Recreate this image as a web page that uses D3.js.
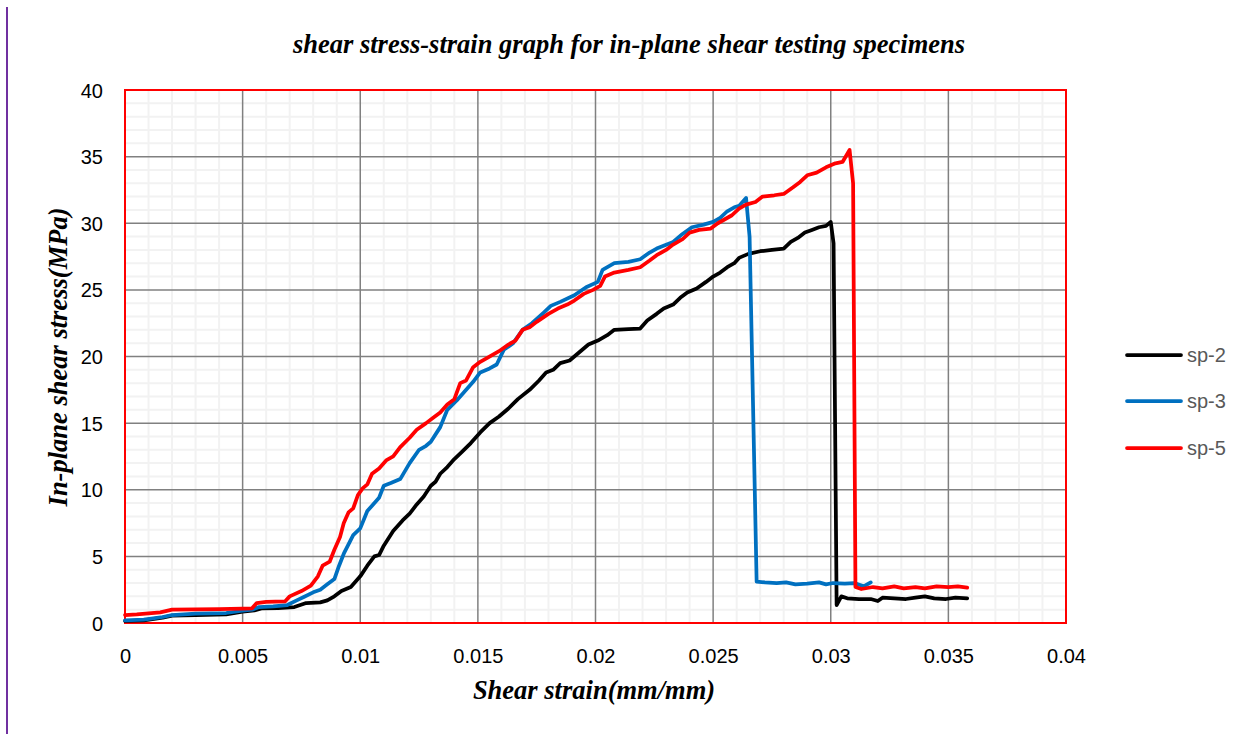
<!DOCTYPE html>
<html><head><meta charset="utf-8">
<script src="https://cdn.jsdelivr.net/npm/d3@7"></script>
<style>body{margin:0;background:#fff;}svg{display:block;}</style>
</head><body>
<script>
const titleText = "shear stress-strain graph for in-plane shear testing specimens";
const xLabel = "Shear strain(mm/mm)";
const yLabel = "In-plane shear stress(MPa)";
const xTicks = [0,0.005,0.01,0.015,0.02,0.025,0.03,0.035,0.04];
const yTicks = [0,5,10,15,20,25,30,35,40];
const seriesNames = ["sp-2","sp-3","sp-5"];
const seriesColors = ["#000000","#0070c0","#ff0000"];

const sp2 = [[0,0.15],[0.0008,0.2],[0.0016,0.4],[0.002,0.55],[0.003,0.6],[0.0043,0.65],[0.005,0.85],[0.0055,0.95],[0.0058,1.1],[0.0065,1.12],[0.0072,1.2],[0.0077,1.5],[0.0083,1.55],[0.0086,1.7],[0.0089,2.0],[0.0092,2.4],[0.0096,2.7],[0.0100,3.5],[0.0103,4.3],[0.0106,5.0],[0.0108,5.1],[0.0110,5.8],[0.0114,6.9],[0.0118,7.7],[0.0121,8.2],[0.0124,8.9],[0.0127,9.5],[0.0130,10.3],[0.0132,10.6],[0.0134,11.2],[0.0137,11.7],[0.0140,12.3],[0.0143,12.8],[0.0147,13.5],[0.0151,14.3],[0.0155,15.0],[0.0159,15.5],[0.0163,16.1],[0.0167,16.8],[0.0172,17.5],[0.0176,18.2],[0.0179,18.8],[0.0182,19.0],[0.0185,19.5],[0.0189,19.7],[0.0193,20.3],[0.0197,20.9],[0.0201,21.2],[0.0205,21.6],[0.0208,22.0],[0.0214,22.05],[0.0219,22.1],[0.0222,22.7],[0.0226,23.2],[0.0229,23.6],[0.0233,23.9],[0.0236,24.4],[0.0239,24.8],[0.0243,25.1],[0.0247,25.6],[0.025,26.0],[0.0253,26.3],[0.0256,26.7],[0.0259,27.0],[0.0261,27.4],[0.0265,27.7],[0.027,27.9],[0.0275,28.0],[0.0280,28.1],[0.0283,28.6],[0.0286,28.9],[0.0289,29.3],[0.0292,29.5],[0.0295,29.7],[0.0298,29.8],[0.0300,30.1],[0.03012,28.5],[0.03025,1.35],[0.03045,2.0],[0.0307,1.85],[0.0312,1.8],[0.0317,1.8],[0.032,1.65],[0.0322,1.9],[0.0327,1.85],[0.0332,1.8],[0.0336,1.9],[0.034,2.0],[0.0344,1.85],[0.0349,1.8],[0.0353,1.9],[0.0358,1.85]];

const sp3 = [[0,0.2],[0.0008,0.25],[0.0016,0.45],[0.002,0.6],[0.003,0.7],[0.0043,0.75],[0.0049,0.9],[0.0054,1.0],[0.0057,1.2],[0.0063,1.25],[0.0069,1.35],[0.0073,1.7],[0.0076,1.95],[0.0080,2.3],[0.0083,2.5],[0.0086,2.9],[0.0089,3.3],[0.0091,4.3],[0.0093,5.2],[0.0095,5.9],[0.0097,6.6],[0.0100,7.1],[0.0103,8.4],[0.0105,8.8],[0.0108,9.4],[0.0110,10.3],[0.0113,10.5],[0.0117,10.8],[0.0121,12.0],[0.0125,13.0],[0.0128,13.3],[0.0130,13.6],[0.0134,14.7],[0.0137,16.0],[0.0141,16.7],[0.0144,17.3],[0.0148,18.1],[0.0151,18.8],[0.0155,19.1],[0.0158,19.4],[0.0161,20.5],[0.0165,21.0],[0.0169,22.0],[0.0173,22.5],[0.0178,23.3],[0.0181,23.8],[0.0185,24.1],[0.0191,24.6],[0.0196,25.2],[0.0201,25.6],[0.0203,26.5],[0.0208,27.0],[0.0214,27.1],[0.0219,27.3],[0.0223,27.8],[0.0226,28.1],[0.0233,28.6],[0.0237,29.2],[0.0241,29.7],[0.0246,29.9],[0.0250,30.1],[0.0253,30.4],[0.0256,30.9],[0.0259,31.2],[0.0261,31.3],[0.0264,31.9],[0.02655,29.0],[0.02685,3.1],[0.0272,3.05],[0.0277,3.0],[0.0281,3.05],[0.0285,2.9],[0.029,2.95],[0.0295,3.05],[0.0298,2.9],[0.0301,3.0],[0.0306,2.95],[0.031,3.0],[0.0314,2.75],[0.0317,3.05]];

const sp5 = [[0,0.6],[0.0005,0.65],[0.001,0.72],[0.0015,0.8],[0.002,1.0],[0.003,1.02],[0.004,1.05],[0.005,1.08],[0.0054,1.1],[0.0056,1.5],[0.006,1.58],[0.0068,1.62],[0.007,2.0],[0.0075,2.4],[0.0079,2.8],[0.0082,3.5],[0.0084,4.3],[0.0087,4.6],[0.0089,5.5],[0.00914,6.45],[0.0093,7.5],[0.0095,8.3],[0.0097,8.6],[0.0099,9.6],[0.0101,10.1],[0.0103,10.4],[0.0105,11.2],[0.0108,11.6],[0.0111,12.2],[0.0114,12.5],[0.0117,13.2],[0.0121,13.9],[0.0124,14.5],[0.0128,15.0],[0.0131,15.4],[0.0134,15.8],[0.0137,16.4],[0.0140,16.8],[0.01425,18.0],[0.0145,18.2],[0.0148,19.2],[0.0151,19.6],[0.0154,19.9],[0.0159,20.4],[0.0163,20.9],[0.0166,21.2],[0.0169,22.0],[0.0172,22.2],[0.0175,22.6],[0.0180,23.2],[0.0184,23.6],[0.0188,23.9],[0.0191,24.2],[0.0195,24.7],[0.0199,25.0],[0.0202,25.3],[0.0204,26.0],[0.0208,26.3],[0.0214,26.5],[0.0219,26.7],[0.0223,27.2],[0.0226,27.6],[0.0230,28.0],[0.0233,28.4],[0.0237,28.8],[0.0240,29.3],[0.0244,29.5],[0.0249,29.6],[0.0252,30.0],[0.0255,30.3],[0.0258,30.6],[0.0261,31.1],[0.0264,31.4],[0.0268,31.6],[0.0271,32.0],[0.0276,32.1],[0.0280,32.2],[0.0284,32.7],[0.0287,33.1],[0.0290,33.6],[0.0294,33.8],[0.0298,34.2],[0.0302,34.5],[0.0305,34.6],[0.0308,35.5],[0.03095,33.0],[0.03105,2.7],[0.0313,2.55],[0.0318,2.7],[0.0322,2.6],[0.0327,2.75],[0.0331,2.6],[0.0336,2.7],[0.034,2.6],[0.0345,2.75],[0.035,2.7],[0.0354,2.75],[0.0358,2.65]];

const seriesData = [sp2, sp3, sp5];

const W = 1251, H = 734;
const L = 125, R = 1066, T = 90, B = 623;
const svg = d3.select("body").append("svg").attr("width", W).attr("height", H);

// purple page edge line
svg.append("line").attr("x1",7).attr("x2",7).attr("y1",7).attr("y2",H)
  .attr("stroke","#7030a0").attr("stroke-width",2);

const x = d3.scaleLinear().domain([0,0.04]).range([L,R]);
const y = d3.scaleLinear().domain([0,40]).range([B,T]);

const g = svg.append("g");
// minor grid
const xMinor = d3.range(0, 41).map(i => i*0.001).filter((d,i) => i%5 !== 0);
const yMinor = d3.range(0, 41).filter(d => d%5 !== 0);
g.selectAll(".xm").data(xMinor).enter().append("line")
  .attr("x1", d=>x(d)).attr("x2", d=>x(d)).attr("y1", T).attr("y2", B)
  .attr("stroke","#f2f2f2").attr("stroke-width",2);
g.selectAll(".ym").data(yMinor).enter().append("line")
  .attr("x1", L).attr("x2", R).attr("y1", d=>y(d)).attr("y2", d=>y(d))
  .attr("stroke","#f2f2f2").attr("stroke-width",2);
// major grid
g.selectAll(".xg").data(xTicks).enter().append("line")
  .attr("x1", d=>x(d)).attr("x2", d=>x(d)).attr("y1", T).attr("y2", B)
  .attr("stroke","#808080").attr("stroke-width",1.5);
g.selectAll(".yg").data(yTicks).enter().append("line")
  .attr("x1", L).attr("x2", R).attr("y1", d=>y(d)).attr("y2", d=>y(d))
  .attr("stroke","#808080").attr("stroke-width",1.5);

// plot border
svg.append("rect").attr("x",L).attr("y",T).attr("width",R-L).attr("height",B-T)
  .attr("fill","none").attr("stroke","#ff0000").attr("stroke-width",2);

// axes tick labels
const xAxis = d3.axisBottom(x).tickValues(xTicks).tickSize(0).tickPadding(0)
  .tickFormat(d => d3.format("~g")(d));
const xa = svg.append("g").attr("transform",`translate(0,${B})`).call(xAxis);
xa.select(".domain").remove();
xa.selectAll("text").attr("dy",0).attr("y",40)
  .attr("font-family","'Liberation Sans', Arial, sans-serif").attr("font-size",20).attr("fill","#000");

const yAxis = d3.axisLeft(y).tickValues(yTicks).tickSize(0).tickPadding(0);
const ya = svg.append("g").attr("transform",`translate(${L},0)`).call(yAxis);
ya.select(".domain").remove();
ya.selectAll("text").attr("x",-22).attr("dy","0.35em")
  .attr("font-family","'Liberation Sans', Arial, sans-serif").attr("font-size",20).attr("fill","#000");

// series
const line = d3.line().x(d=>x(d[0])).y(d=>y(d[1]));
svg.selectAll(".series").data(seriesData).enter().append("path")
  .attr("d", line).attr("fill","none")
  .attr("stroke",(d,i)=>seriesColors[i]).attr("stroke-width",3.75)
  .attr("stroke-linejoin","round").attr("stroke-linecap","round");

// titles
svg.append("text").attr("x",629).attr("y",53).attr("text-anchor","middle")
  .attr("font-family","'Liberation Serif','Times New Roman',serif").attr("font-weight","bold")
  .attr("font-style","italic").attr("font-size",26.5).text(titleText);
svg.append("text").attr("x",594).attr("y",699).attr("text-anchor","middle")
  .attr("font-family","'Liberation Serif','Times New Roman',serif").attr("font-weight","bold")
  .attr("font-style","italic").attr("font-size",26.5).text(xLabel);
svg.append("text").attr("transform","translate(67,357) rotate(-90)").attr("text-anchor","middle")
  .attr("font-family","'Liberation Serif','Times New Roman',serif").attr("font-weight","bold")
  .attr("font-style","italic").attr("font-size",26.5).text(yLabel);

// legend
const lg = svg.append("g");
const legY = [355, 401, 448];
seriesNames.forEach((n,i) => {
  lg.append("line").attr("x1",1127).attr("x2",1181).attr("y1",legY[i]).attr("y2",legY[i])
    .attr("stroke",seriesColors[i]).attr("stroke-width",3.75).attr("stroke-linecap","round");
  lg.append("text").attr("x",1187).attr("y",legY[i]).attr("dy","0.35em")
    .attr("font-family","'Liberation Sans', Arial, sans-serif").attr("font-size",20)
    .attr("fill","#595959").text(n);
});
</script>
</body></html>
